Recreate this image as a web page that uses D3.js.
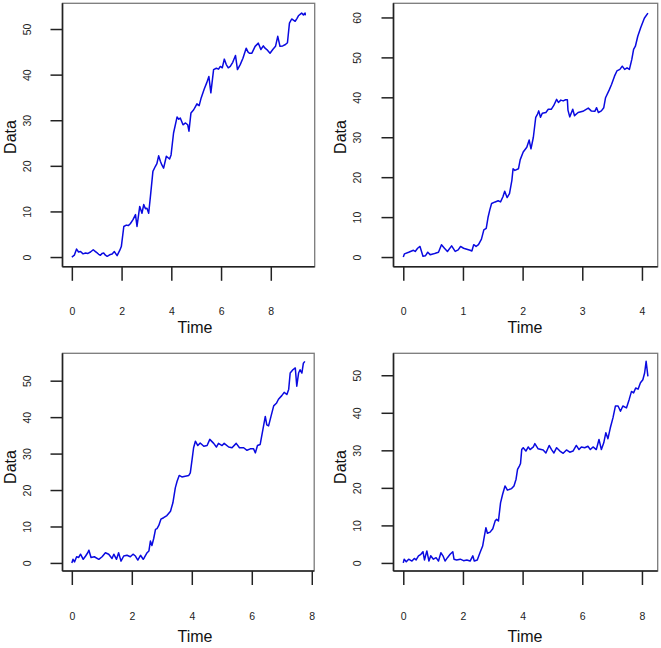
<!DOCTYPE html>
<html>
<head>
<meta charset="utf-8">
<script src="https://cdn.jsdelivr.net/npm/d3@7"></script>
<style>
  html, body { margin: 0; padding: 0; background: #fff; }
  svg { display: block; font-family: "Liberation Sans", Arial, Helvetica, sans-serif; }
</style>
</head>
<body>
<svg id="chart" width="661" height="648"></svg>
<script>
// ---------- DATA ----------
const time1 = [0,0.1,0.19,0.27,0.35,0.45,0.55,0.65,0.75,0.86,0.95,1.02,1.08,1.15,1.22,1.28,1.35,1.42,1.52,1.62,1.71,1.82,1.93,1.99,2.09,2.19,2.27,2.35,2.46,2.56,2.62,2.73,2.82,2.89,2.96,3.02,3.09,3.16,3.26,3.36,3.42,3.49,3.56,3.62,3.69,3.8,3.93,3.99,4.09,4.23,4.3,4.36,4.47,4.57,4.66,4.71,4.79,4.9,4.97,5.03,5.12,5.2,5.32,5.43,5.51,5.59,5.7,5.81,5.9,5.97,6.05,6.13,6.21,6.29,6.37,6.47,6.58,6.66,6.77,6.88,7.01,7.08,7.14,7.24,7.37,7.5,7.6,7.7,7.77,7.84,7.97,8.08,8.19,8.28,8.37,8.48,8.59,8.67,8.75,8.84,8.98,9.05,9.11,9.24,9.31,9.38,9.39];
const data1 = [0,0.4,1.75,1.1,1.2,0.7,0.9,0.8,1.1,1.6,1.2,0.9,0.6,0.4,0.8,0.9,0.4,0.15,0.5,0.65,1.2,0.3,1.5,2.3,6.7,7.0,6.9,7.3,8.2,9.3,6.7,11.1,9.6,11.5,10.6,10.7,9.6,13.3,18.8,19.9,20.5,22.2,21.0,20.2,19.5,22.1,21.5,22.4,27.2,30.7,30.2,30.5,29.0,29.4,29.0,27.6,31.6,32.3,33.0,33.6,33.2,34.9,36.8,38.3,39.6,36.0,41.1,41.4,41.2,41.8,41.5,43.4,42.2,41.5,41.8,42.7,44.2,41.1,42.2,43.6,45.8,45.0,44.7,44.7,46.2,46.9,45.5,46.3,45.8,45.5,44.7,45.5,46.2,48.4,46.2,46.3,46.6,47.0,51.3,52.2,51.7,52.3,52.9,53.5,53.1,53.5,53.0];

const time2 = [0,0.02,0.09,0.17,0.2,0.24,0.28,0.33,0.37,0.41,0.45,0.51,0.55,0.59,0.64,0.69,0.74,0.81,0.87,0.92,0.96,1.01,1.12,1.15,1.18,1.22,1.26,1.31,1.35,1.39,1.42,1.45,1.48,1.54,1.59,1.63,1.67,1.7,1.74,1.78,1.82,1.84,1.87,1.93,1.96,2.01,2.07,2.11,2.14,2.18,2.22,2.25,2.27,2.3,2.33,2.39,2.43,2.48,2.52,2.57,2.6,2.64,2.68,2.72,2.75,2.76,2.79,2.84,2.87,2.93,3.01,3.1,3.15,3.21,3.24,3.27,3.32,3.36,3.39,3.45,3.49,3.54,3.58,3.63,3.67,3.71,3.75,3.79,3.83,3.86,3.89,3.93,3.98,4.04,4.1];
const data2 = [0,0.8,1.2,1.7,1.4,2.2,2.65,0.2,0.3,1.2,0.6,0.8,1.0,1.2,3.1,2.2,1.4,2.8,1.4,1.8,2.65,2.2,1.7,1.5,3.1,2.65,3.1,4.5,6.8,7.2,9.9,11.8,13.4,13.8,14.1,13.8,15.1,16.5,14.9,15.9,19.2,22.1,21.7,22.1,24.4,26.3,27.5,29.3,27.1,30.0,35.0,35.8,36.6,35.0,36.0,36.2,37.0,37.0,37.9,39.5,38.7,39.3,39.1,39.4,39.4,36.8,35.1,37.0,35.4,36.2,36.5,37.3,36.6,36.5,37.4,36.2,36.6,37.4,39.9,41.8,43.2,45.3,46.6,47.0,47.8,47.0,47.4,47.0,49.5,52.0,52.8,55.3,57.5,59.8,61.1];

const time3 = [0,0.04,0.09,0.16,0.23,0.29,0.38,0.46,0.53,0.57,0.64,0.75,0.9,1.01,1.12,1.23,1.34,1.4,1.49,1.56,1.64,1.73,1.84,1.95,2.04,2.12,2.2,2.29,2.38,2.42,2.51,2.57,2.62,2.67,2.73,2.79,2.84,2.9,2.97,3.06,3.17,3.29,3.37,3.45,3.51,3.58,3.67,3.78,3.9,3.95,4.01,4.06,4.12,4.2,4.28,4.4,4.51,4.6,4.73,4.82,4.89,5.01,5.08,5.23,5.34,5.48,5.59,5.73,5.84,5.95,6.06,6.12,6.19,6.28,6.37,6.45,6.5,6.56,6.64,6.73,6.82,6.89,7.0,7.08,7.17,7.23,7.28,7.37,7.45,7.5,7.56,7.61,7.67,7.72,7.77];
const data3 = [0,1.0,0.3,1.7,1.5,2.4,1.0,1.9,2.8,3.5,1.5,1.7,1.0,1.7,2.8,2.4,1.2,2.4,1.0,2.8,0.5,1.9,2.1,1.7,2.4,1.9,0.8,2.1,1.0,1.5,2.8,3.3,6.0,4.8,6.7,9.2,9.4,10.3,12.0,12.4,13.0,14.2,16.5,20.6,22.4,24.0,23.6,23.8,24.0,24.7,28.4,31.6,33.4,32.2,32.9,32.0,32.2,33.9,32.8,31.8,32.8,32.2,32.8,31.8,31.6,32.8,31.6,31.6,30.9,31.3,31.3,30.2,32.2,32.5,36.6,40.2,37.9,37.6,40.2,43.1,43.8,44.9,45.9,46.8,46.2,47.6,52.1,53.0,53.5,48.5,52.1,53.0,52.1,54.8,55.3];

const time4 = [0,0.03,0.1,0.18,0.29,0.37,0.43,0.51,0.59,0.66,0.71,0.79,0.86,0.92,1.01,1.1,1.18,1.26,1.33,1.4,1.48,1.57,1.66,1.7,1.79,1.91,2.02,2.13,2.24,2.33,2.38,2.48,2.57,2.66,2.72,2.77,2.82,2.91,3.0,3.08,3.13,3.19,3.26,3.33,3.41,3.49,3.63,3.71,3.78,3.83,3.89,3.93,3.97,4.02,4.11,4.19,4.25,4.36,4.41,4.52,4.69,4.78,4.89,4.97,5.05,5.14,5.25,5.36,5.47,5.58,5.69,5.8,5.89,5.97,6.08,6.19,6.27,6.36,6.47,6.56,6.64,6.72,6.79,6.86,6.94,7.03,7.11,7.2,7.28,7.36,7.48,7.57,7.65,7.72,7.79,7.87,7.95,8.03,8.09,8.14,8.2];
const data4 = [0,1.0,0.3,1.0,0.5,1.2,0.8,1.9,2.3,3.0,0.8,3.2,0.5,1.9,1.0,1.4,0.5,2.7,1.9,0.5,1.4,2.3,3.0,1.0,0.8,1.0,0.6,0.8,0.5,1.9,0.5,0.8,2.7,4.5,7.2,9.4,7.9,8.2,9.1,11.2,11.6,11.2,16.0,18.3,20.5,19.4,19.8,20.5,22.3,24.9,25.8,26.5,30.2,30.7,29.8,30.9,30.2,30.9,31.8,30.4,30.1,29.3,31.3,30.2,29.3,30.7,29.8,29.2,30.1,29.5,29.8,31.3,30.2,30.9,30.7,31.1,30.2,30.9,30.2,32.9,30.2,32.0,34.7,33.1,36.0,38.7,41.8,41.8,40.4,41.8,41.3,43.5,45.7,45.3,46.6,46.3,48.0,48.8,50.6,53.7,49.7];

const xTicks1 = [0, 2, 4, 6, 8];
const xTicks2 = [0, 1, 2, 3, 4];
const xTicks3 = [0, 2, 4, 6, 8];
const xTicks4 = [0, 2, 4, 6, 8];
const yTicks1 = [0, 10, 20, 30, 40, 50];
const yTicks2 = [0, 10, 20, 30, 40, 50, 60];
const yTicks3 = [0, 10, 20, 30, 40, 50];
const yTicks4 = [0, 10, 20, 30, 40, 50];

const xLabel = "Time";
const yLabel = "Data";

// ---------- LAYOUT ----------
const panels = [
  { t: time1, v: data1, xt: xTicks1, yt: yTicks1, l: 62.5, r: 314.7, top: 3.3, bot: 266.8, ox: 0, oy: 0 },
  { t: time2, v: data2, xt: xTicks2, yt: yTicks2, l: 393.5, r: 657.7, top: 3.3, bot: 266.8, ox: 330, oy: 0 },
  { t: time3, v: data3, xt: xTicks3, yt: yTicks3, l: 62.5, r: 314.2, top: 353.3, bot: 571.0, ox: 0, oy: 340 },
  { t: time4, v: data4, xt: xTicks4, yt: yTicks4, l: 393.5, r: 657.7, top: 353.3, bot: 571.0, ox: 330, oy: 340 }
];

const svg = d3.select("#chart");
const pad = ext => { const d = ext[1] - ext[0]; return [ext[0] - 0.04 * d, ext[1] + 0.04 * d]; };

panels.forEach(p => {
  const g = svg.append("g");
  const x = d3.scaleLinear().domain(pad(d3.extent(p.t))).range([p.l, p.r]);
  const y = d3.scaleLinear().domain(pad(d3.extent(p.v))).range([p.bot, p.top]);
  const pts = p.t.map((t, i) => [t, p.v[i]]);

  // plot box
  g.append("rect")
    .attr("x", p.l).attr("y", p.top)
    .attr("width", p.r - p.l).attr("height", p.bot - p.top)
    .attr("fill", "none").attr("stroke", "#7a7a7a").attr("stroke-width", 1.3);
  g.append("line").attr("x1", p.l).attr("x2", p.l).attr("y1", p.top).attr("y2", p.bot)
    .attr("stroke", "#222").attr("stroke-width", 1.6);
  g.append("line").attr("x1", p.l).attr("x2", p.r).attr("y1", p.bot).attr("y2", p.bot)
    .attr("stroke", "#222").attr("stroke-width", 1.6);

  // data line
  g.append("path")
    .datum(pts)
    .attr("fill", "none")
    .attr("stroke", "#0a0ae0")
    .attr("stroke-width", 1.5)
    .attr("stroke-linejoin", "round")
    .attr("d", d3.line().x(d => x(d[0])).y(d => y(d[1])));

  // x axis
  const gx = g.append("g").attr("transform", `translate(0,${p.bot})`)
    .call(d3.axisBottom(x).tickValues(p.xt).tickSize(14).tickFormat(d3.format("d")));
  gx.select(".domain").remove();
  gx.selectAll(".tick line").attr("stroke", "#222").attr("stroke-width", 1.5);
  gx.selectAll(".tick text").attr("y", 48.7).attr("dy", null)
    .attr("font-size", 10.5).attr("fill", "#222").attr("font-family", null);

  // y axis
  const gy = g.append("g").attr("transform", `translate(${p.l},0)`)
    .call(d3.axisLeft(y).tickValues(p.yt).tickSize(12).tickFormat(d3.format("d")));
  gy.select(".domain").remove();
  gy.selectAll(".tick line").attr("stroke", "#222").attr("stroke-width", 1.5);
  gy.selectAll(".tick text")
    .attr("x", null).attr("dy", null).attr("y", null)
    .attr("text-anchor", "middle")
    .attr("transform", `translate(${p.ox + 31 - p.l},0) rotate(-90)`)
    .attr("font-size", 10.5).attr("fill", "#222").attr("font-family", null);

  // axis titles
  g.append("text")
    .attr("x", p.ox + 195).attr("y", p.oy + (p.oy ? 642 - 340 : 333.3))
    .attr("text-anchor", "middle").attr("font-size", 16).attr("fill", "#111")
    .text(xLabel);
  g.append("text")
    .attr("transform", `translate(${p.ox + 15.5},${p.oy + (p.oy ? 127 : 137)}) rotate(-90)`)
    .attr("text-anchor", "middle").attr("font-size", 16).attr("fill", "#111")
    .text(yLabel);
});

// bottom-row x tick labels sit a bit higher relative to the box
</script>
</body>
</html>
